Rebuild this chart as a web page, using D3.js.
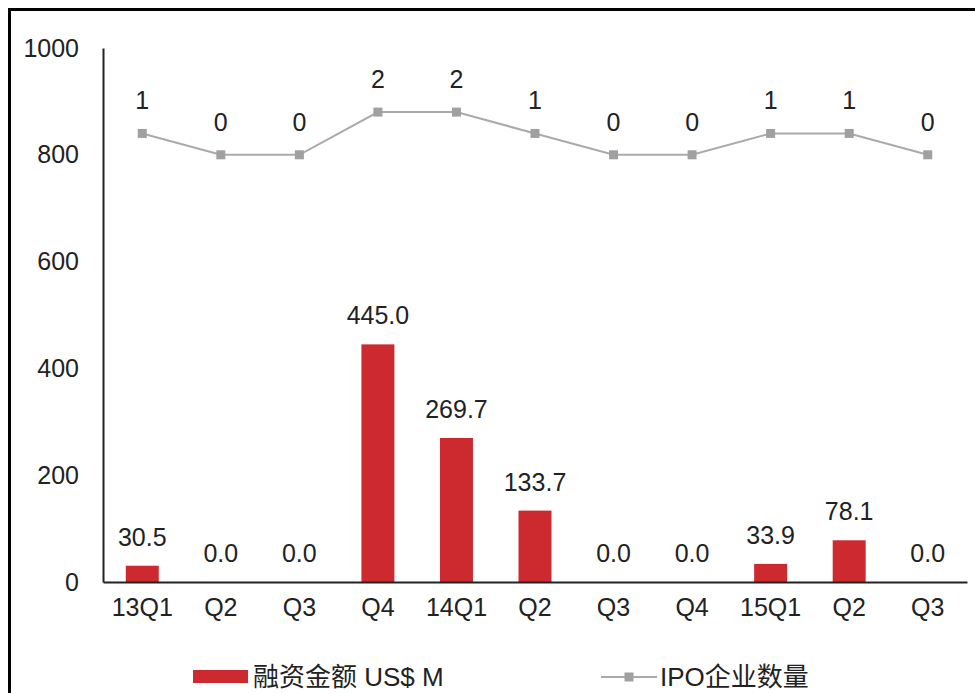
<!DOCTYPE html>
<html>
<head>
<meta charset="utf-8">
<script src="https://cdn.jsdelivr.net/npm/d3@7"></script>
<style>
  html, body { margin: 0; padding: 0; background: #fff; }
  svg { display: block; }
  text { font-family: "Liberation Sans", Arial, "Noto Sans CJK SC", sans-serif; fill: #222; }
</style>
</head>
<body>
<svg id="chart" width="975" height="693"></svg>
<script>
// Quarterly IPO financing (US$ M) and number of IPO companies
const quarters = ["13Q1", "Q2", "Q3", "Q4", "14Q1", "Q2", "Q3", "Q4", "15Q1", "Q2", "Q3"];
const amounts = [30.5, 0.0, 0.0, 445.0, 269.7, 133.7, 0.0, 0.0, 33.9, 78.1, 0.0];
const ipoCounts = [1, 0, 0, 2, 2, 1, 0, 0, 1, 1, 0];
const amountTicks = [0, 200, 400, 600, 800, 1000];
const seriesNames = ["融资金额 US$ M", "IPO企业数量"];

const svg = d3.select("#chart");
const W = 975, H = 693;
const m = { left: 103, right: 8, top: 48, bottom: 111 };
const FS = 25;

// outer frame (right and bottom edges fall outside the view)
svg.append("rect")
  .attr("x", 9.5).attr("y", 9.5)
  .attr("width", W + 20).attr("height", H + 20)
  .attr("fill", "none").attr("stroke", "#000").attr("stroke-width", 3);

const x = d3.scaleBand()
  .domain(d3.range(quarters.length))
  .range([m.left, W - m.right])
  .paddingInner(0.58).paddingOuter(0.29);

const y = d3.scaleLinear().domain([0, 1000]).range([H - m.bottom, m.top]);

// secondary scale for the company count line
const yCount = d3.scaleLinear().domain([0, 2]).range([y(800), y(880)]);

// left axis
const yAxis = svg.append("g")
  .attr("transform", `translate(${m.left},0)`)
  .call(d3.axisLeft(y).tickValues(amountTicks).tickFormat(d3.format("d")).tickSize(0).tickPadding(24));
yAxis.select(".domain").attr("stroke", "#222").attr("stroke-width", 2);
yAxis.selectAll("text").attr("font-size", FS).attr("fill", "#222");

// bars
svg.append("g").selectAll("rect")
  .data(amounts)
  .join("rect")
  .attr("x", (d, i) => x(i))
  .attr("width", x.bandwidth())
  .attr("y", d => y(d))
  .attr("height", d => y(0) - y(d))
  .attr("fill", "#cc2a2e");

// bar value labels
svg.append("g").selectAll("text")
  .data(amounts)
  .join("text")
  .attr("x", (d, i) => x(i) + x.bandwidth() / 2)
  .attr("y", d => y(d) - 20)
  .attr("text-anchor", "middle")
  .attr("font-size", FS)
  .text(d => d.toFixed(1));

// bottom axis
const xAxis = svg.append("g")
  .attr("transform", `translate(0,${y(0)})`)
  .call(d3.axisBottom(x).tickFormat(i => quarters[i]).tickSize(0).tickPadding(16));
xAxis.select(".domain").attr("stroke", "#222").attr("stroke-width", 2);
xAxis.selectAll("text").attr("font-size", FS).attr("fill", "#222");

// count line
const cx = i => x(i) + x.bandwidth() / 2;
svg.append("path")
  .datum(ipoCounts)
  .attr("fill", "none")
  .attr("stroke", "#aaaaaa")
  .attr("stroke-width", 2)
  .attr("d", d3.line().x((d, i) => cx(i)).y(d => yCount(d)));

svg.append("g").selectAll("rect")
  .data(ipoCounts)
  .join("rect")
  .attr("x", (d, i) => cx(i) - 4.5)
  .attr("y", d => yCount(d) - 4.5)
  .attr("width", 9).attr("height", 9)
  .attr("fill", "#a0a0a0");

svg.append("g").selectAll("text")
  .data(ipoCounts)
  .join("text")
  .attr("x", (d, i) => cx(i))
  .attr("y", d => yCount(d) - 24)
  .attr("text-anchor", "middle")
  .attr("font-size", FS)
  .text(d => d);

// legend
const lg = svg.append("g").attr("transform", "translate(0,677)");
lg.append("rect").attr("x", 193).attr("y", -7).attr("width", 55).attr("height", 13).attr("fill", "#cc2a2e");
lg.append("text").attr("x", 253).attr("y", 0).attr("dy", "0.35em").attr("font-size", 26).text(seriesNames[0]);
lg.append("line").attr("x1", 601).attr("x2", 657).attr("y1", 0).attr("y2", 0)
  .attr("stroke", "#aaaaaa").attr("stroke-width", 2);
lg.append("rect").attr("x", 624.5).attr("y", -4.5).attr("width", 9).attr("height", 9).attr("fill", "#a0a0a0");
lg.append("text").attr("x", 660).attr("y", 0).attr("dy", "0.35em").attr("font-size", 26).text(seriesNames[1]);
</script>
</body>
</html>
